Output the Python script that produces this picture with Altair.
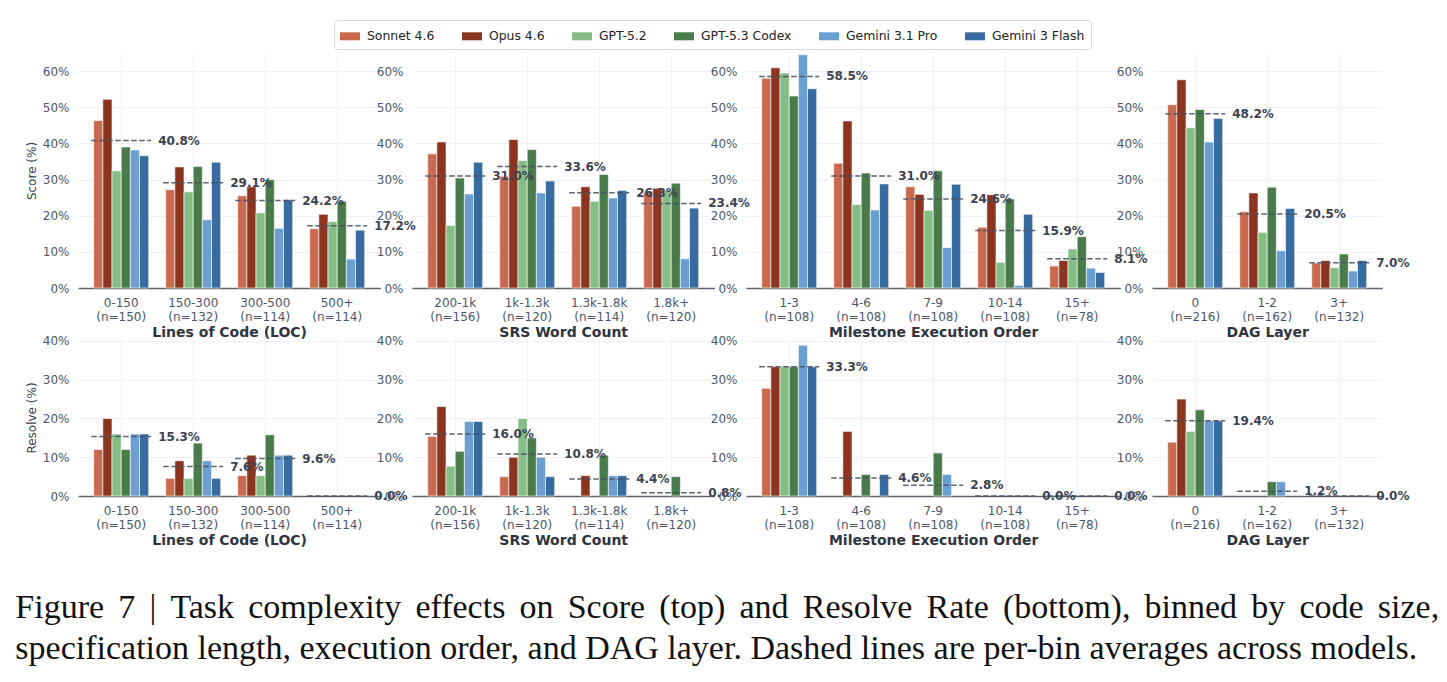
import altair as alt
import pandas as pd

MODELS = ["Sonnet 4.6", "Opus 4.6", "GPT-5.2", "GPT-5.3 Codex", "Gemini 3.1 Pro", "Gemini 3 Flash"]
MODEL_COLORS = ["#c96a4f", "#8b3520", "#86bc85", "#4a7b4a", "#6b9fd1", "#386ba0"]

LOC_BINS = ["0-150", "150-300", "300-500", "500+"]
LOC_N = [150, 132, 114, 114]
SRS_BINS = ["200-1k", "1k-1.3k", "1.3k-1.8k", "1.8k+"]
SRS_N = [156, 120, 114, 120]
ORDER_BINS = ["1-3", "4-6", "7-9", "10-14", "15+"]
ORDER_N = [108, 108, 108, 108, 78]
DAG_BINS = ["0", "1-2", "3+"]
DAG_N = [216, 162, 132]

# Score (%) per model, one value per bin
SCORE_LOC = {
    "Sonnet 4.6":     [46.3, 27.2, 25.5, 16.4],
    "Opus 4.6":       [52.2, 33.5, 28.0, 20.4],
    "GPT-5.2":        [32.4, 26.6, 20.8, 18.4],
    "GPT-5.3 Codex":  [39.0, 33.6, 30.0, 24.0],
    "Gemini 3.1 Pro": [38.2, 18.9, 16.5, 8.0],
    "Gemini 3 Flash": [36.6, 34.8, 24.4, 16.0],
}
SCORE_SRS = {
    "Sonnet 4.6":     [37.1, 30.9, 22.6, 26.6],
    "Opus 4.6":       [40.4, 41.1, 28.0, 27.6],
    "GPT-5.2":        [17.3, 35.3, 24.0, 27.0],
    "GPT-5.3 Codex":  [30.4, 38.3, 31.4, 29.0],
    "Gemini 3.1 Pro": [26.0, 26.3, 24.9, 8.1],
    "Gemini 3 Flash": [34.8, 29.6, 27.0, 22.1],
}
SCORE_ORDER = {
    "Sonnet 4.6":     [58.0, 34.5, 28.0, 16.8, 6.1],
    "Opus 4.6":       [60.9, 46.2, 25.9, 25.8, 7.6],
    "GPT-5.2":        [59.5, 23.1, 21.5, 7.1, 10.8],
    "GPT-5.3 Codex":  [53.1, 31.8, 32.4, 24.6, 14.2],
    "Gemini 3.1 Pro": [64.5, 21.6, 11.2, 0.7, 5.5],
    "Gemini 3 Flash": [55.1, 28.8, 28.7, 20.4, 4.3],
}
SCORE_DAG = {
    "Sonnet 4.6":     [50.7, 21.1, 6.9],
    "Opus 4.6":       [57.6, 26.3, 7.6],
    "GPT-5.2":        [44.3, 15.4, 5.6],
    "GPT-5.3 Codex":  [49.4, 27.9, 9.4],
    "Gemini 3.1 Pro": [40.4, 10.3, 4.7],
    "Gemini 3 Flash": [46.9, 22.0, 7.6],
}

# Resolve rate (%) per model, one value per bin
RESOLVE_LOC = {
    "Sonnet 4.6":     [12.0, 4.55, 5.263, 0.0],
    "Opus 4.6":       [20.0, 9.09, 10.526, 0.0],
    "GPT-5.2":        [16.0, 4.55, 5.263, 0.0],
    "GPT-5.3 Codex":  [12.0, 13.64, 15.789, 0.0],
    "Gemini 3.1 Pro": [16.0, 9.09, 10.526, 0.0],
    "Gemini 3 Flash": [16.0, 4.55, 10.526, 0.0],
}
RESOLVE_SRS = {
    "Sonnet 4.6":     [15.38, 5.0, 0.0, 0.0],
    "Opus 4.6":       [23.08, 10.0, 5.26, 0.0],
    "GPT-5.2":        [7.69, 20.0, 0.0, 0.0],
    "GPT-5.3 Codex":  [11.54, 15.0, 10.53, 5.0],
    "Gemini 3.1 Pro": [19.23, 10.0, 5.26, 0.0],
    "Gemini 3 Flash": [19.23, 5.0, 5.26, 0.0],
}
RESOLVE_ORDER = {
    "Sonnet 4.6":     [27.78, 0.0, 0.0, 0.0, 0.0],
    "Opus 4.6":       [33.33, 16.67, 0.0, 0.0, 0.0],
    "GPT-5.2":        [33.33, 0.0, 0.0, 0.0, 0.0],
    "GPT-5.3 Codex":  [33.33, 5.56, 11.11, 0.0, 0.0],
    "Gemini 3.1 Pro": [38.89, 0.0, 5.56, 0.0, 0.0],
    "Gemini 3 Flash": [33.33, 5.56, 0.0, 0.0, 0.0],
}
RESOLVE_DAG = {
    "Sonnet 4.6":     [13.89, 0.0, 0.0],
    "Opus 4.6":       [25.0, 0.0, 0.0],
    "GPT-5.2":        [16.67, 0.0, 0.0],
    "GPT-5.3 Codex":  [22.22, 3.70, 0.0],
    "Gemini 3.1 Pro": [19.44, 3.70, 0.0],
    "Gemini 3 Flash": [19.44, 0.0, 0.0],
}

CAPTION = [
    "Figure 7 | Task complexity effects on Score (top) and Resolve Rate (bottom), binned by code size,",
    "specification length, execution order, and DAG layer. Dashed lines are per-bin averages across models.",
]
# the first caption line is set justified: widen its word gaps a little
CAPTION_LINES = [CAPTION[0].replace(" ", " \u2006"), CAPTION[1]]

STEP = 72           # pixels per bin
TOP_H, BOTTOM_H = 235, 157
INK = "#3b4252"
TICK_INK = "#4c566a"

LEGEND = alt.Legend(
    orient="none", legendX=256, legendY=-33, direction="horizontal", columns=6,
    title=None, symbolType="M-1,-0.4H1V0.4H-1Z", symbolSize=400, symbolStrokeWidth=0,
    symbolOpacity=1, labelFont="DejaVu Sans", labelFontSize=12.4, labelColor="#222222",
    columnPadding=27, labelOffset=7, strokeColor="#d9d9d9", fillColor="white",
    padding=6, cornerRadius=3,
)


def panel(bins, counts, table, x_title, y_title, y_max, y_ticks, height):
    keys = [f"{b}|(n={n})" for b, n in zip(bins, counts)]
    df = pd.DataFrame(
        [{"bin": k, "model": m, "value": v} for m in MODELS for k, v in zip(keys, table[m])]
    )
    x_scale = alt.Scale(paddingInner=0.167, paddingOuter=0.1835)
    y_scale = alt.Scale(domain=[0, y_max], nice=False)
    x_axis = alt.Axis(title=x_title, labelExpr="split(datum.value, '|')")
    y_axis = alt.Axis(title=y_title, values=y_ticks, labelExpr="datum.value + '%'")

    base = alt.Chart(df)
    bars = base.transform_filter("datum.value > 0").mark_bar(
        stroke="white", strokeWidth=0.6
    ).encode(
        x=alt.X("bin:N", sort=keys, scale=x_scale, axis=x_axis),
        xOffset=alt.XOffset("model:N", sort=MODELS,
                            scale=alt.Scale(domain=MODELS, paddingInner=0, paddingOuter=0.27)),
        y=alt.Y("value:Q", scale=y_scale, axis=y_axis),
        color=alt.Color("model:N", sort=MODELS,
                        scale=alt.Scale(domain=MODELS, range=MODEL_COLORS), legend=LEGEND),
    )

    # per-bin average across models: dashed rule plus its value
    means = base.transform_aggregate(avg="mean(value)", groupby=["bin"]).transform_calculate(
        label="format(datum.avg, '.1f') + '%'"
    )
    rule = means.mark_rule(strokeDash=[5.5, 2.5], strokeWidth=1.5, color="#4a5262", opacity=0.9).encode(
        x=alt.X("bin:N", sort=keys, scale=x_scale, bandPosition=0, axis=x_axis),
        x2=alt.X2("bin", bandPosition=1),
        y=alt.Y("avg:Q", scale=y_scale, axis=y_axis),
    )
    text = means.mark_text(
        align="left", baseline="middle", dx=7, font="DejaVu Sans",
        fontWeight="bold", fontSize=12, color=INK,
    ).encode(
        x=alt.X("bin:N", sort=keys, scale=x_scale, bandPosition=1, axis=x_axis),
        y=alt.Y("avg:Q", scale=y_scale, axis=y_axis),
        text="label:N",
    )
    return alt.layer(bars, rule, text).properties(width=STEP * (len(bins) + 0.2), height=height)


TOP_TICKS = [0, 10, 20, 30, 40, 50, 60]
BOTTOM_TICKS = [0, 10, 20, 30, 40]

panels = [
    panel(LOC_BINS, LOC_N, SCORE_LOC, "Lines of Code (LOC)", "Score (%)", 65, TOP_TICKS, TOP_H),
    panel(SRS_BINS, SRS_N, SCORE_SRS, "SRS Word Count", None, 65, TOP_TICKS, TOP_H),
    panel(ORDER_BINS, ORDER_N, SCORE_ORDER, "Milestone Execution Order", None, 65, TOP_TICKS, TOP_H),
    panel(DAG_BINS, DAG_N, SCORE_DAG, "DAG Layer", None, 65, TOP_TICKS, TOP_H),
    panel(LOC_BINS, LOC_N, RESOLVE_LOC, "Lines of Code (LOC)", "Resolve (%)", 40.5, BOTTOM_TICKS, BOTTOM_H),
    panel(SRS_BINS, SRS_N, RESOLVE_SRS, "SRS Word Count", None, 40.5, BOTTOM_TICKS, BOTTOM_H),
    panel(ORDER_BINS, ORDER_N, RESOLVE_ORDER, "Milestone Execution Order", None, 40.5, BOTTOM_TICKS, BOTTOM_H),
    panel(DAG_BINS, DAG_N, RESOLVE_DAG, "DAG Layer", None, 40.5, BOTTOM_TICKS, BOTTOM_H),
]

chart = alt.concat(
    *panels, columns=4, spacing=alt.RowColnumber(row=51, column=31),
    bounds="flush", align="each",
).properties(
    title=alt.TitleParams(
        text=CAPTION_LINES, orient="bottom", anchor="start", font="Liberation Serif",
        fontSize=34, fontWeight="normal", color="#111111", lineHeight=41, offset=44, dx=-10,
    ),
    padding={"left": 15, "top": 19, "right": 0, "bottom": 5},
).configure_view(stroke=None).configure_axis(
    labelFont="DejaVu Sans", titleFont="DejaVu Sans", gridColor="#eceef2", gridWidth=0.8,
).configure_axisX(
    domainColor="#5c6370", domainWidth=1.5, ticks=False, labelAngle=0, labelFontSize=12,
    labelColor=TICK_INK, labelLineHeight=14.3, labelPadding=9, titleFontSize=14,
    titleFontWeight="bold", titleColor="#2e3440", titlePadding=3, grid=True,
).configure_axisY(
    domain=False, ticks=False, labelFontSize=12, labelColor=TICK_INK, labelPadding=9,
    titleFontSize=12, titleFontWeight="normal", titleColor=INK, titlePadding=4,
)

chart.save("out.html", embed_options={"renderer": "svg", "actions": False})
